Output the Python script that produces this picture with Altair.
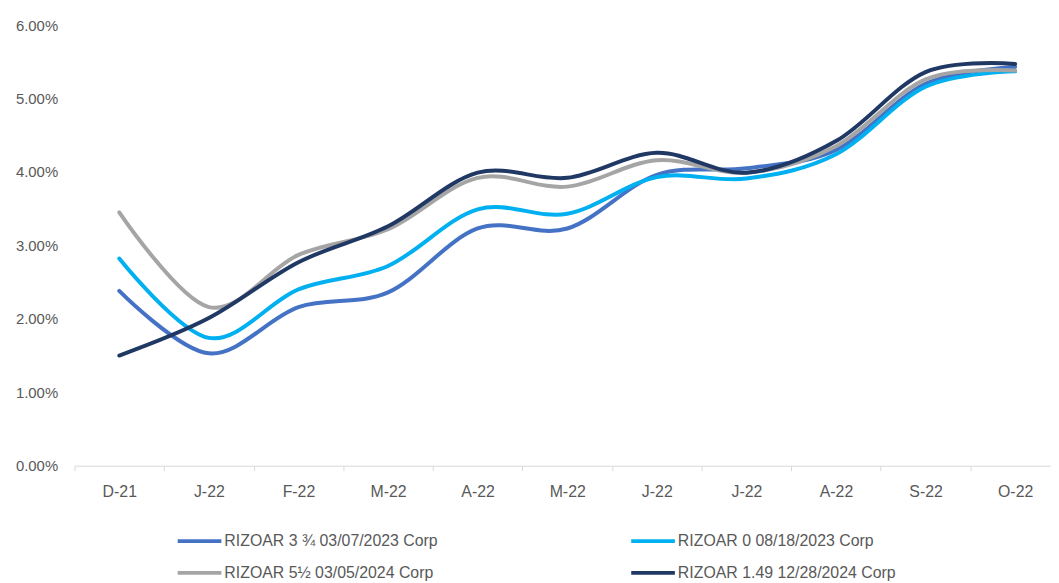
import altair as alt
import pandas as pd

months = ["D-21", "J-22", "F-22", "M-22", "A-22", "M-22 ", "J-22 ", "J-22  ", "A-22 ", "S-22", "O-22"]

series_names = [
    "RIZOAR 3 ¾ 03/07/2023 Corp",
    "RIZOAR 0 08/18/2023 Corp",
    "RIZOAR 5½ 03/05/2024 Corp",
    "RIZOAR 1.49 12/28/2024 Corp",
]
colors = ["#4472C4", "#00B0F0", "#A5A5A5", "#203864"]

s1 = [2.38, 1.53, 2.16, 2.36, 3.23, 3.23, 3.96, 4.05, 4.30, 5.20, 5.43]
s2 = [2.82, 1.74, 2.40, 2.72, 3.49, 3.43, 3.93, 3.91, 4.24, 5.16, 5.37]
s3 = [3.45, 2.16, 2.87, 3.22, 3.92, 3.80, 4.16, 3.99, 4.35, 5.26, 5.38]
s4 = [1.50, 2.01, 2.77, 3.26, 3.99, 3.92, 4.26, 3.99, 4.42, 5.36, 5.47]

rows = []
for name, vals in zip(series_names, [s1, s2, s3, s4]):
    for i, (m, v) in enumerate(zip(months, vals)):
        rows.append({"month": m, "order": i, "series": name, "value": v / 100})
df = pd.DataFrame(rows)

FONT = "Liberation Sans"
GREY = "#595959"

chart = alt.Chart(df).mark_line(
    interpolate="cardinal", strokeWidth=4, strokeCap="round"
).encode(
    x=alt.X("month:N", sort=months, title=None, bandPosition=0.5,
            scale=alt.Scale(type="band", range=[0, 993], paddingInner=0, paddingOuter=0),
            axis=alt.Axis(labelAngle=0, tickBand="extent", domainColor="#D9D9D9",
                          tickColor="#D9D9D9", tickSize=5, labelPadding=13,
                          labelFont=FONT, labelFontSize=16, labelColor=GREY,
                          labelExpr="trim(datum.label)", grid=False)),
    y=alt.Y("value:Q", title=None,
            scale=alt.Scale(domain=[0, 0.06], nice=False),
            axis=alt.Axis(format=".2%", values=[0, 0.01, 0.02, 0.03, 0.04, 0.05, 0.06],
                          grid=False, domain=False, ticks=False, tickSize=0,
                          labelPadding=17, labelFont=FONT, labelFontSize=15,
                          labelColor=GREY)),
    color=alt.Color("series:N", sort=series_names,
                    scale=alt.Scale(domain=series_names, range=colors),
                    legend=alt.Legend(title=None, orient="none", legendX=102, legendY=496,
                                      direction="horizontal",
                                      columns=2, symbolType="stroke", symbolSize=1936,
                                      symbolStrokeWidth=4, labelFont=FONT, labelFontSize=16,
                                      labelColor=GREY, labelOffset=1, labelLimit=400,
                                      columnPadding=186, rowPadding=-6, padding=0)),
    order="order:Q",
).properties(
    width=976, height=444,
    autosize=alt.AutoSizeParams(type="none"),
    padding={"left": 67, "top": 15, "right": 8, "bottom": 116},
).configure_view(stroke=None)

chart.save("out.html", embed_options={"renderer": "svg", "actions": False})
